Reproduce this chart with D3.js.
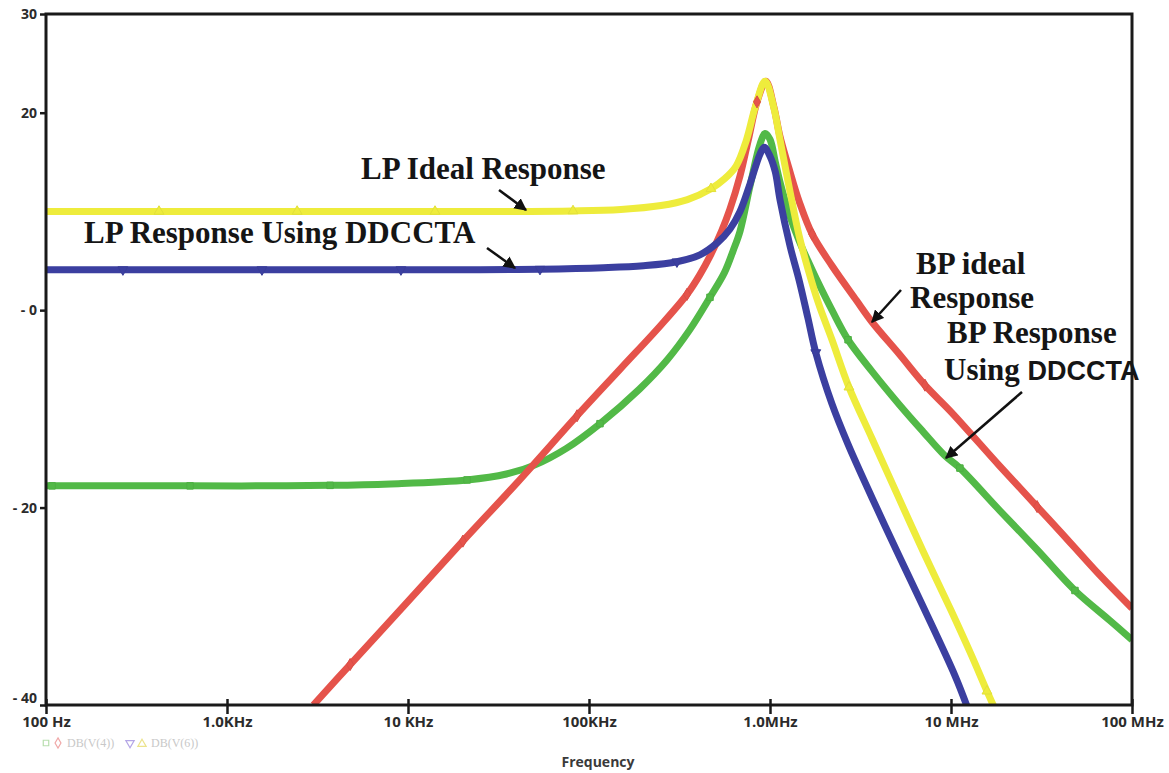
<!DOCTYPE html>
<html>
<head>
<meta charset="utf-8">
<script src="https://cdn.jsdelivr.net/npm/d3@7/dist/d3.min.js"></script>
<style>
  html, body { margin: 0; padding: 0; background: #ffffff; }
  svg { display: block; }
</style>
</head>
<body>
<svg id="chart" width="1169" height="773"></svg>
<script>
// Frequency axis (Hz) and gain axis (dB)
const freqTicks = [1e2, 1e3, 1e4, 1e5, 1e6, 1e7, 1e8];
const freqTickLabels = ["100 Hz", "1.0KHz", "10 KHz", "100KHz", "1.0MHz", "10 MHz", "100 MHz"];
const dbTicks = [30, 20, 0, -20, -40];
const dbTickLabels = ["30", "20", "- 0", "- 20", "- 40"];

// Low-pass, ideal: [frequency Hz, gain dB]
const lpIdeal = [
  [100, 10.0], [421, 10.0], [1000, 10.0], [2440, 10.0], [5000, 10.0], [14100, 10.0],
  [30000, 10.0], [81600, 10.05], [150000, 10.2], [250000, 10.6], [350000, 11.2],
  [472000, 12.3], [560000, 13.3], [650000, 14.6], [740000, 17.2], [830000, 20.6],
  [940000, 23.2], [1050000, 20.5], [1135000, 17.3], [1290000, 12.0], [1450000, 7.5],
  [1620000, 4.2], [1860000, 0.6], [2200000, -3.0], [2730000, -7.8], [3660000, -13.0],
  [5200000, -19.2], [7000000, -24.4], [10000000, -30.4], [13000000, -35.0],
  [15800000, -38.6], [17500000, -40.4]
];
const lpIdealMarks = [421, 2440, 14100, 81600, 472000, 2730000, 15800000];

// Low-pass using DDCCTA
const lpDdccta = [
  [100, 4.1], [266, 4.1], [600, 4.1], [1560, 4.1], [4000, 4.1], [9140, 4.1],
  [25000, 4.1], [53600, 4.15], [120000, 4.3], [200000, 4.5], [306000, 4.9],
  [410000, 5.6], [510000, 6.8], [600000, 8.2], [683000, 10.0], [776000, 12.8],
  [880000, 15.8], [930000, 16.5], [1000000, 15.6], [1070000, 14.0], [1135000, 11.2],
  [1290000, 6.5], [1450000, 3.0], [1620000, -0.8], [1790000, -4.3], [2200000, -9.5],
  [2700000, -13.6], [3660000, -19.0], [5200000, -25.0], [7000000, -30.0],
  [10500000, -37.0], [12300000, -40.2]
];
const lpDdcctaMarks = [266, 1560, 9140, 53600, 306000, 1790000];

// Band-pass, ideal
const bpIdeal = [
  [3000, -40.0], [4790, -35.9], [10000, -29.5], [20100, -23.4], [40000, -17.5],
  [85900, -10.7], [150000, -5.9], [250000, -1.5], [348000, 1.6], [410000, 3.6],
  [470000, 5.6], [540000, 8.0], [600000, 10.2], [683000, 13.6], [760000, 17.3],
  [848000, 21.1], [950000, 23.2], [1050000, 20.6], [1135000, 17.6], [1290000, 14.0],
  [1450000, 11.0], [1710000, 7.7], [2200000, 4.5], [3000000, 1.0], [3660000, -1.2],
  [5200000, -4.5], [7180000, -7.6], [10000000, -10.3], [18600000, -15.8],
  [29900000, -19.9], [40000000, -22.4], [66000000, -26.8], [100000000, -30.2]
];
const bpIdealMarks = [4790, 20100, 85900, 348000, 848000, 1710000, 7180000, 29900000];

// Band-pass using DDCCTA
const bpDdccta = [
  [100, -17.8], [108, -17.8], [300, -17.8], [625, -17.8], [1500, -17.8], [3710, -17.75],
  [8000, -17.6], [21200, -17.2], [35000, -16.6], [50000, -15.7], [75000, -14.0],
  [115000, -11.5], [190000, -8.0], [270000, -5.05], [360000, -2.0], [466000, 1.3],
  [560000, 3.8], [625000, 6.0], [683000, 8.0], [776000, 12.6], [880000, 16.8],
  [940000, 17.9], [1000000, 17.3], [1070000, 15.0], [1135000, 13.0], [1290000, 9.5],
  [1450000, 7.0], [1620000, 5.0], [1800000, 3.2], [2200000, 0.0], [2700000, -3.0],
  [3660000, -6.2], [5200000, -9.6], [7000000, -12.3], [9200000, -14.7],
  [11200000, -16.0], [18600000, -20.3], [30000000, -24.3], [48400000, -28.4],
  [75000000, -31.4], [100000000, -33.4]
];
const bpDdcctaMarks = [108, 625, 3710, 21200, 115000, 466000, 2700000, 11200000, 48400000];

const svg = d3.select("#chart");
const plot = { left: 46, right: 1132, top: 14, bottom: 705 };

const x = d3.scaleLog().domain([1e2, 1e8]).range([plot.left, plot.right]);
const y = d3.scaleLinear().domain([-40, 30]).range([plot.bottom, plot.top]);

const defs = svg.append("defs");
defs.append("clipPath").attr("id", "plotClip")
  .append("rect")
  .attr("x", 0).attr("y", plot.top)
  .attr("width", plot.right).attr("height", plot.bottom - plot.top);

defs.append("marker")
  .attr("id", "arrowHead")
  .attr("viewBox", "0 0 10 10")
  .attr("refX", 9).attr("refY", 5)
  .attr("markerWidth", 5).attr("markerHeight", 5)
  .attr("markerUnits", "strokeWidth")
  .attr("orient", "auto")
  .append("path").attr("d", "M0,0 L10,5 L0,10 Z").attr("fill", "#111");

const line = d3.line()
  .x(d => x(d[0]))
  .y(d => y(d[1]))
  .curve(d3.curveCatmullRom.alpha(0.5));

const series = [
  { data: bpDdccta, marks: bpDdcctaMarks, color: "#52b947", symbol: d3.symbolSquare, rot: 0 },
  { data: bpIdeal, marks: bpIdealMarks, color: "#e5534b", symbol: d3.symbolDiamond, rot: 0 },
  { data: lpDdccta, marks: lpDdcctaMarks, color: "#3b3fa0", symbol: d3.symbolTriangle, rot: 180 },
  { data: lpIdeal, marks: lpIdealMarks, color: "#eeec3c", symbol: d3.symbolTriangle, rot: 0 }
];

const curves = svg.append("g").attr("clip-path", "url(#plotClip)");
series.forEach(s => {
  curves.append("path")
    .datum(s.data)
    .attr("d", line)
    .attr("fill", "none")
    .attr("stroke", s.color)
    .attr("stroke-width", 7)
    .attr("stroke-linejoin", "round");
});

// Small trace markers along each curve
series.forEach(s => {
  const pts = s.data.filter(d => s.marks.includes(d[0]));
  curves.selectAll(null)
    .data(pts)
    .enter().append("path")
    .attr("d", d3.symbol().type(s.symbol).size(42))
    .attr("transform", d => `translate(${x(d[0])},${y(d[1])}) rotate(${s.rot})`)
    .attr("fill", s.color)
    .attr("stroke", d3.color(s.color).darker(0.15))
    .attr("stroke-width", 1);
});

// Plot frame
svg.append("rect")
  .attr("x", plot.left).attr("y", plot.top)
  .attr("width", plot.right - plot.left).attr("height", plot.bottom - plot.top)
  .attr("fill", "none").attr("stroke", "#1a1a1a").attr("stroke-width", 3);

// Axes
const xAxis = d3.axisBottom(x)
  .tickValues(freqTicks)
  .tickFormat((d, i) => freqTickLabels[i])
  .tickSize(9).tickPadding(2);
const gx = svg.append("g").attr("transform", `translate(0,${plot.bottom})`).call(xAxis);
gx.select(".domain").remove();
gx.selectAll(".tick line").attr("stroke", "#1a1a1a").attr("stroke-width", 2.5).attr("y1", -6);
gx.selectAll(".tick text")
  .attr("font-family", "'Open Sans', 'DejaVu Sans', sans-serif")
  .attr("font-size", 15).attr("font-weight", "bold").attr("fill", "#2b2b2b");

const yAxis = d3.axisLeft(y)
  .tickValues(dbTicks)
  .tickFormat((d, i) => dbTickLabels[i])
  .tickSize(6).tickPadding(3);
const gy = svg.append("g").attr("transform", `translate(${plot.left},0)`).call(yAxis);
gy.select(".domain").remove();
gy.selectAll(".tick line").attr("stroke", "#1a1a1a").attr("stroke-width", 2.5);
gy.selectAll(".tick text")
  .attr("font-family", "'Open Sans', 'DejaVu Sans', sans-serif")
  .attr("font-size", 14).attr("font-weight", "bold").attr("fill", "#2b2b2b");
// lowest label sits just above the frequency labels
gy.selectAll(".tick text").filter(d => d === -40).attr("dy", "-0.15em");

// Axis title
svg.append("text")
  .attr("x", 598).attr("y", 767)
  .attr("text-anchor", "middle")
  .attr("font-family", "'Open Sans', 'DejaVu Sans', sans-serif")
  .attr("font-size", 14).attr("font-weight", "bold").attr("fill", "#3a3a3a")
  .text("Frequency");

// Trace legend
const legend = svg.append("g").attr("font-family", "'Liberation Serif', serif")
  .attr("font-size", 12).attr("fill", "#c8c8c8");
legend.append("path").attr("d", d3.symbol().type(d3.symbolSquare).size(30))
  .attr("transform", "translate(46,743)").attr("fill", "none").attr("stroke", "#b8deae").attr("stroke-width", 1.2);
legend.append("path").attr("d", d3.symbol().type(d3.symbolDiamond).size(30))
  .attr("transform", "translate(58,743)").attr("fill", "none").attr("stroke", "#f0a8a8").attr("stroke-width", 1.2);
legend.append("text").attr("x", 67).attr("y", 747).text("DB(V(4))");
legend.append("path").attr("d", d3.symbol().type(d3.symbolTriangle).size(30))
  .attr("transform", "translate(130,743) rotate(180)").attr("fill", "none").attr("stroke", "#b4a6e6").attr("stroke-width", 1.2);
legend.append("path").attr("d", d3.symbol().type(d3.symbolTriangle).size(30))
  .attr("transform", "translate(142,744)").attr("fill", "none").attr("stroke", "#ece38c").attr("stroke-width", 1.2);
legend.append("text").attr("x", 151).attr("y", 747).text("DB(V(6))");

// Curve annotations
const notes = svg.append("g")
  .attr("font-family", "'Liberation Serif', 'Times New Roman', serif")
  .attr("font-weight", "bold").attr("font-size", 31).attr("fill", "#151515");
notes.append("text").attr("x", 361).attr("y", 179).text("LP Ideal Response");
notes.append("text").attr("x", 84).attr("y", 243).text("LP Response Using DDCCTA");
notes.append("text").attr("x", 916).attr("y", 274).text("BP ideal");
notes.append("text").attr("x", 910).attr("y", 308).text("Response");
notes.append("text").attr("x", 947).attr("y", 343).text("BP Response");
const using = notes.append("text").attr("x", 944).attr("y", 380);
using.append("tspan").text("Using ");
using.append("tspan").attr("font-family", "'Liberation Sans', Arial, sans-serif").attr("font-size", 27).text("DDCCTA");

const arrows = [
  [[499, 190], [526, 210]],
  [[487, 248], [515, 268]],
  [[901, 290], [872, 322]],
  [[1022, 392], [946, 458]]
];
svg.append("g").selectAll("line")
  .data(arrows)
  .enter().append("line")
  .attr("x1", d => d[0][0]).attr("y1", d => d[0][1])
  .attr("x2", d => d[1][0]).attr("y2", d => d[1][1])
  .attr("stroke", "#111").attr("stroke-width", 2.5)
  .attr("marker-end", "url(#arrowHead)");
</script>
</body>
</html>
